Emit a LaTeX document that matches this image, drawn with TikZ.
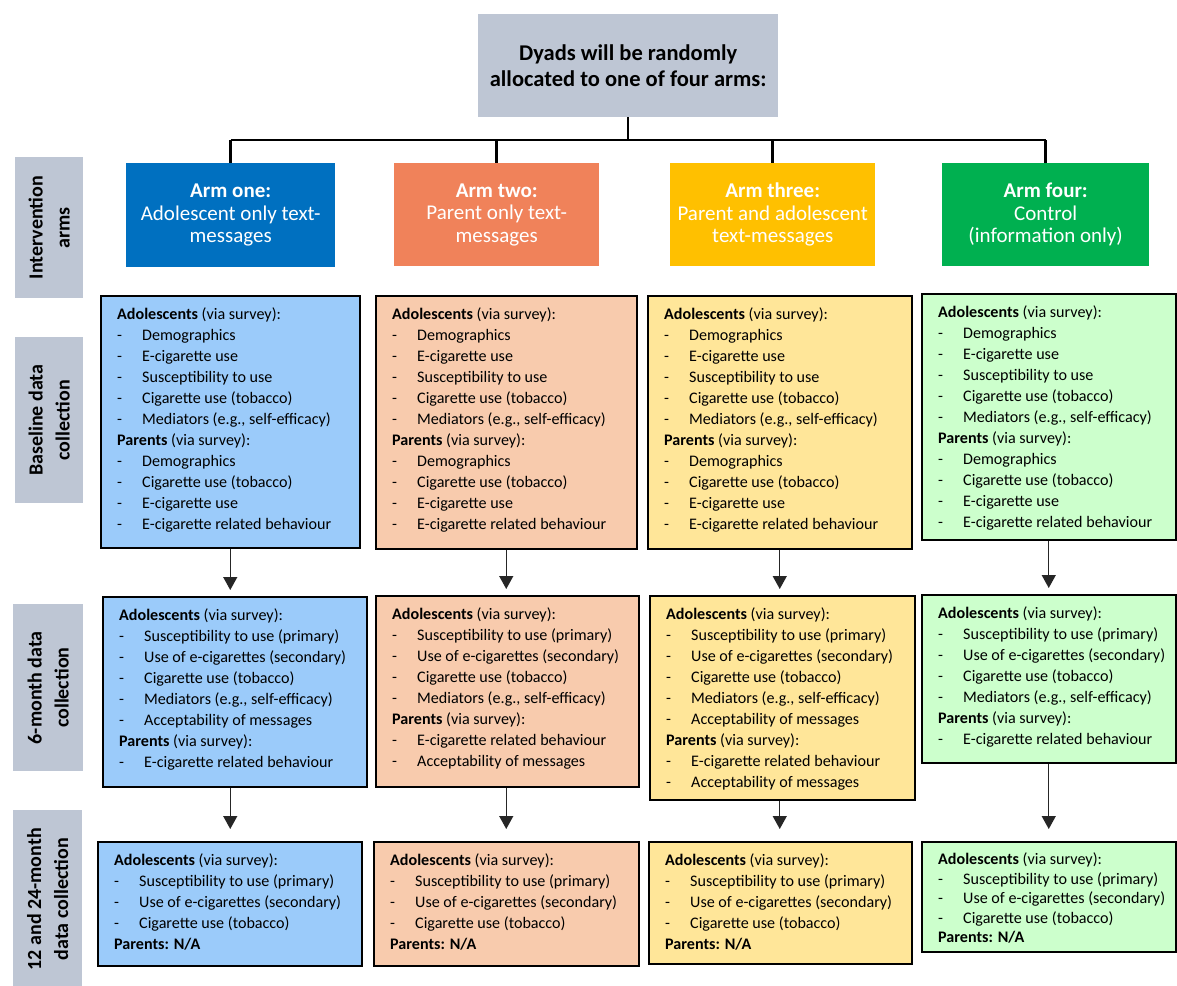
\documentclass[tikz,border=0pt]{standalone}
\usepackage{fontspec}
\setmainfont{Carlito}
\usetikzlibrary{arrows.meta}
\definecolor{lgray}{HTML}{BEC6D4}
\definecolor{armone}{HTML}{0070C0}
\definecolor{armtwo}{HTML}{F0825A}
\definecolor{armthree}{HTML}{FFC000}
\definecolor{armfour}{HTML}{00B050}
\definecolor{lblue}{HTML}{9BCBFA}
\definecolor{lorange}{HTML}{F8CBAD}
\definecolor{lyellow}{HTML}{FFE699}
\definecolor{lgreen}{HTML}{CCFFCC}
\newcommand{\itm}[1]{\makebox[25pt][l]{-}#1}
\newcommand{\hdA}{\textbf{Adolescents} (via survey):}
\newcommand{\hdP}{\textbf{Parents} (via survey):}
\newcommand{\baseitems}{\hdA\\ \itm{Demographics}\\ \itm{E-cigarette use}\\ \itm{Susceptibility to use}\\ \itm{Cigarette use (tobacco)}\\ \itm{Mediators (e.g., self-efficacy)}\\ \hdP\\ \itm{Demographics}\\ \itm{Cigarette use (tobacco)}\\ \itm{E-cigarette use}\\ \itm{E-cigarette related behaviour}}
\newcommand{\sixhead}{\hdA\\ \itm{Susceptibility to use (primary)}\\ \itm{Use of e-cigarettes (secondary)}\\ \itm{Cigarette use (tobacco)}\\ \itm{Mediators (e.g., self-efficacy)}}
\newcommand{\twelveitems}{\hdA\\ \itm{Susceptibility to use (primary)}\\ \itm{Use of e-cigarettes (secondary)}\\ \itm{Cigarette use (tobacco)}\\ \textbf{Parents: N/A}}
\newcommand{\databox}[7]{%
  \node[databoxst, fill=#6, minimum width=#4pt, minimum height=#5pt] (#1) at (#2,#3) {};
  \node[bodytext] (#1t) at ([shift={(17pt,-13pt)}]#1.north west) {#7};
}
\begin{document}
\begin{tikzpicture}[x=1pt,y=-1pt,
  databoxst/.style={draw=black, line width=1.5pt, anchor=north west, inner sep=0pt},
  bodytext/.style={anchor=north west, align=left, inner sep=0pt, font=\fontsize{16.1}{21}\selectfont},
  sidelbl/.style={fill=lgray, anchor=north west, inner sep=0pt},
  sidetext/.style={rotate=90, align=center, inner sep=0pt, font=\fontsize{20}{27}\selectfont\bfseries},
  armbox/.style={anchor=north west, inner sep=0pt, text=white, align=center, font=\fontsize{21}{22.5}\selectfont},
  tree/.style={draw=black, line width=2.5pt},
  arr/.style={draw=black!85, line width=1.3pt, -{Triangle[width=14pt,length=13pt]}}
]
\useasboundingbox (0,0) rectangle (1177,985);
\fill[white] (0,0) rectangle (1177,985);

% top box
\node[fill=lgray, anchor=north west, inner sep=0pt, minimum width=300pt, minimum height=103pt,
  align=center, font=\fontsize{22.5}{26}\selectfont\bfseries] (top) at (478,14)
  {Dyads will be randomly\\allocated to one of four arms:};

% arm boxes
\node[armbox, fill=armone, minimum width=209pt, minimum height=104pt] (a1) at (126,163)
  {\textbf{Arm one:}\\Adolescent only text-\\messages};
\node[armbox, fill=armtwo, minimum width=205pt, minimum height=103pt] (a2) at (394,163)
  {\textbf{Arm two:}\\Parent only text-\\messages};
\node[armbox, fill=armthree, minimum width=205pt, minimum height=103pt] (a3) at (670,163)
  {\textbf{Arm three:}\\Parent and adolescent\\text-messages};
\node[armbox, fill=armfour, minimum width=207pt, minimum height=103pt] (a4) at (942,163)
  {\textbf{Arm four:}\\Control\\(information only)};

% tree
\coordinate (hub) at (628,140);
\draw[tree] (top.south) -- (top.south |- hub);
\draw[tree] (a1.north |- hub) -- (a4.north |- hub);
\draw[tree] (a1.north |- hub) -- (a1.north);
\draw[tree] (a2.north |- hub) -- (a2.north);
\draw[tree] (a3.north |- hub) -- (a3.north);
\draw[tree] (a4.north |- hub) -- (a4.north);

% side labels
\node[sidelbl, minimum width=68pt, minimum height=141pt] (l1) at (15,157) {};
\node[sidetext] at (l1.center) {Intervention\\arms};
\node[sidelbl, minimum width=68pt, minimum height=166pt] (l2) at (15,337) {};
\node[sidetext] at (l2.center) {Baseline data\\collection};
\node[sidelbl, minimum width=70pt, minimum height=167pt] (l3) at (13,604) {};
\node[sidetext] at (l3.center) {6-month data\\collection};
\node[sidelbl, minimum width=69pt, minimum height=178pt] (l4) at (13,810) {};
\node[sidetext] at (l4.center) {12 and 24-month\\data collection};

% baseline boxes
\databox{b1}{100}{295}{259}{252}{lblue}{\baseitems}
\databox{b2}{375}{295}{261}{253}{lorange}{\baseitems}
\databox{b3}{647}{295}{264}{253}{lyellow}{\baseitems}
\databox{b4}{921}{293}{254}{246}{lgreen}{\baseitems}

% 6-month boxes
\databox{s1}{102}{596}{264}{190}{lblue}{\sixhead\\ \itm{Acceptability of messages}\\ \hdP\\ \itm{E-cigarette related behaviour}}
\databox{s2}{375}{595}{263}{191}{lorange}{\sixhead\\ \hdP\\ \itm{E-cigarette related behaviour}\\ \itm{Acceptability of messages}}
\databox{s3}{649}{595}{265}{204}{lyellow}{\sixhead\\ \itm{Acceptability of messages}\\ \hdP\\ \itm{E-cigarette related behaviour}\\ \itm{Acceptability of messages}}
\databox{s4}{921}{594}{254}{168}{lgreen}{\sixhead\\ \hdP\\ \itm{E-cigarette related behaviour}}

% 12/24-month boxes
\databox{t1}{97}{841}{264}{124}{lblue}{\twelveitems}
\databox{t2}{373}{841}{265}{124}{lorange}{\twelveitems}
\databox{t3}{648}{841}{263}{122}{lyellow}{\twelveitems}
\node[databoxst, fill=lgreen, minimum width=254pt, minimum height=110pt] (t4) at (921,841) {};
\node[bodytext, font=\fontsize{16.1}{19.5}\selectfont] (t4t) at ([shift={(17pt,-12pt)}]t4.north west) {\twelveitems};

% arrows
\foreach \i in {1,2,3,4}{
  \draw[arr, shorten >=6pt] (b\i.south) -- (b\i.south |- s\i.north);
  \draw[arr, shorten >=12pt] (b\i.south |- s\i.south) -- (b\i.south |- t\i.north);
}
\end{tikzpicture}
\end{document}
